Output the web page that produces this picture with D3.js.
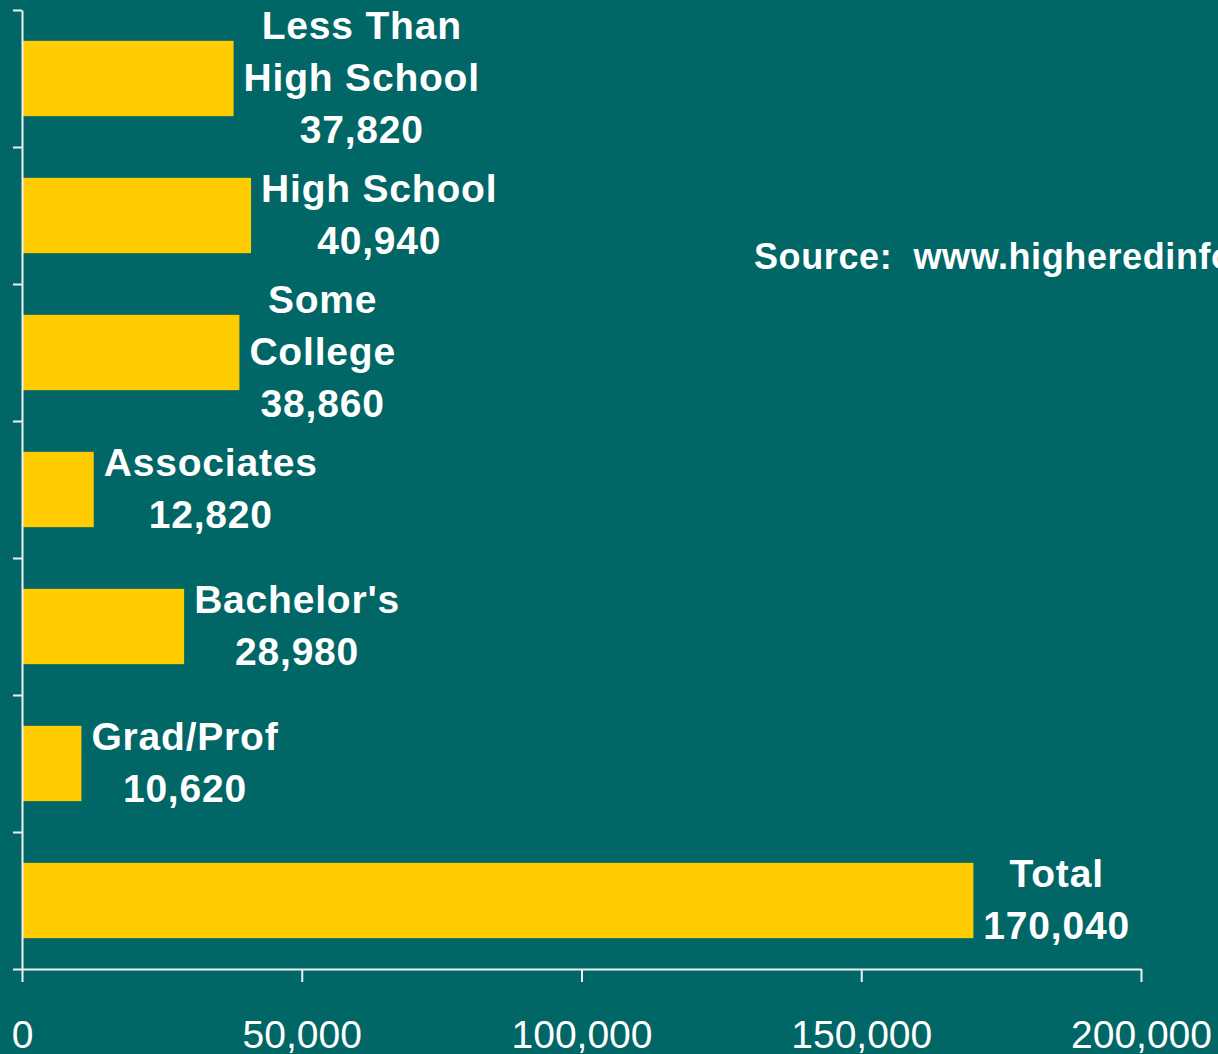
<!DOCTYPE html>
<html>
<head>
<meta charset="utf-8">
<script src="https://cdn.jsdelivr.net/npm/d3@7"></script>
<style>
  html, body { margin: 0; padding: 0; background: #006666; overflow: hidden; }
  svg { display: block; font-family: "Liberation Sans", Arial, sans-serif; }
</style>
</head>
<body>
<svg id="chart" width="1218" height="1054"></svg>
<script>
// data
const categories = ["Less Than High School", "High School", "Some College", "Associates", "Bachelor's", "Grad/Prof", "Total"];
const labelLines = [["Less Than", "High School"], ["High School"], ["Some", "College"], ["Associates"], ["Bachelor's"], ["Grad/Prof"], ["Total"]];
const values = [37820, 40940, 38860, 12820, 28980, 10620, 170040];
const xTicks = [0, 50000, 100000, 150000, 200000];
const sourceText = "Source:  www.higheredinfo.org";

const svg = d3.select("#chart");
const plotLeft = 22, plotRight = 1141, plotTop = 10, plotBottom = 969;

const x = d3.scaleLinear().domain([0, 200000]).range([plotLeft, plotRight]);
const y = d3.scaleBand().domain(categories).range([plotTop, plotBottom]).paddingInner(0.45).paddingOuter(0.225);
const yEdge = d3.scaleLinear().domain([0, categories.length]).range([plotTop, plotBottom]);

// bars
svg.append("g").selectAll("rect")
    .data(values)
    .enter()
    .append("rect")
    .attr("x", x(0))
    .attr("y", (d, i) => y(categories[i]))
    .attr("width", d => x(d) - x(0))
    .attr("height", y.bandwidth())
    .attr("fill", "#FFCC00");

// y axis (tick marks on band edges, no labels)
const yAxis = svg.append("g")
    .attr("transform", "translate(" + plotLeft + ",0)")
    .call(d3.axisLeft(yEdge).tickValues(d3.range(0, categories.length + 1)).tickSize(9).tickSizeOuter(0).tickFormat(""));

// x axis
const xAxis = svg.append("g")
    .attr("transform", "translate(0," + plotBottom + ")")
    .call(d3.axisBottom(x).tickValues(xTicks).tickSize(13).tickSizeOuter(0).tickFormat(d3.format(",")));

[yAxis, xAxis].forEach(function(g){
    g.select(".domain").attr("stroke", "#f0f0f0").attr("stroke-width", 2);
    g.selectAll(".tick line").attr("stroke", "#f0f0f0").attr("stroke-width", 2);
});
xAxis.selectAll(".tick text")
    .attr("y", 79).attr("dy", 0)
    .attr("fill", "#ffffff")
    .style("font-size", "39px")
    .style("font-family", "'Liberation Sans', Arial, sans-serif");

// value labels: block of lines, centred on the bar, starting just past its end
const fmt = d3.format(",");
const lineH = 52;
values.forEach(function(v, i){
    const lines = labelLines[i].concat([fmt(v)]);
    const cy = y(categories[i]) + y.bandwidth() / 2;
    const g = svg.append("g");
    const texts = g.selectAll("text")
        .data(lines)
        .enter()
        .append("text")
        .attr("text-anchor", "middle")
        .attr("y", (d, j) => cy + (j - (lines.length - 1) / 2) * lineH + 12)
        .attr("fill", "#ffffff")
        .style("font-size", "39px")
        .style("font-weight", "bold")
        .style("letter-spacing", "0.8px")
        .text(d => d);
    let maxW = 0;
    texts.each(function(){ maxW = Math.max(maxW, this.getComputedTextLength()); });
    texts.attr("x", x(v) + 10 + maxW / 2);
});

// source note
svg.append("text")
    .attr("x", 754)
    .attr("y", 269)
    .attr("fill", "#ffffff")
    .style("font-size", "36px")
    .style("font-weight", "bold")
    .style("letter-spacing", "0.6px")
    .style("white-space", "pre")
    .text(sourceText);
</script>
</body>
</html>
